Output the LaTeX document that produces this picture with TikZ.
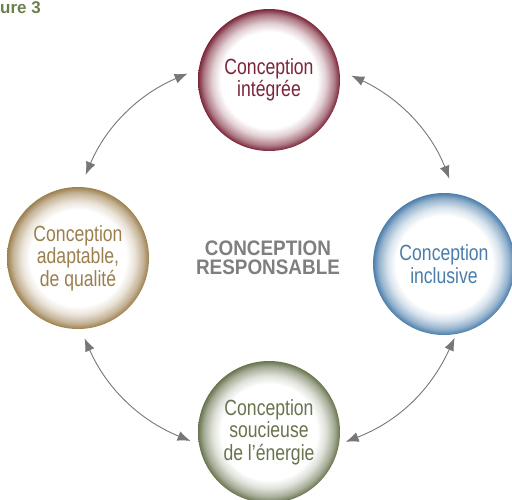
\documentclass[tikz,border=0pt]{standalone}
\usepackage{fontspec}
\setmainfont{Liberation Sans}
\newfontfamily\narrowfont[FakeStretch=0.8]{Liberation Sans}
\newfontfamily\midfont[FakeStretch=0.9]{Liberation Sans}
\usetikzlibrary{arrows.meta,shapes,positioning}

\definecolor{wine}{HTML}{7A2538}
\definecolor{steel}{HTML}{4A7DAA}
\definecolor{sand}{HTML}{9C7F4E}
\definecolor{olive}{HTML}{68744F}
\definecolor{midgray}{HTML}{7F7F80}
\definecolor{arrowgray}{HTML}{77777A}
\definecolor{figgreen}{HTML}{6C804E}

% white disc that fades into a coloured rim
\newcommand\ringshade[2]{%
  \pgfdeclareradialshading{#1}{\pgfpointorigin}{%
    color(0bp)=(white); color(17bp)=(white);
    color(20bp)=(#2!22!white); color(23bp)=(#2!60!white);
    color(25bp)=(#2); color(50bp)=(#2)}}
\ringshade{winering}{wine}
\ringshade{steelring}{steel}
\ringshade{sandring}{sand}
\ringshade{olivering}{olive}

\tikzset{
  ring/.style={circle, minimum size=142pt, inner sep=0pt, align=center,
    font=\narrowfont\fontsize{22}{22.5}\selectfont},
  flow/.style={{Latex[length=13pt,width=10pt]}-{Latex[length=13pt,width=10pt]},
    draw=arrowgray, line width=0.9pt}
}

\begin{document}
\begin{tikzpicture}[x=1pt, y=-1pt]
    \useasboundingbox (0,0) rectangle (512,499);

    \node[anchor=north west, inner sep=0pt, text=figgreen,
      font=\bfseries\fontsize{17}{17}\selectfont] (fig) at (0,1) {ure 3};

    \node[ring, shading=winering, text=wine] (integree) at (269,80) {Conception\\intégrée};
    \node[ring, shading=steelring, text=steel] (inclusive) at (444,264) {Conception\\inclusive};
    \node[ring, shading=sandring, text=sand] (adaptable) at (78,258) {Conception\\adaptable,\\de qualité};
    \node[ring, shading=olivering, text=olive] (energie) at (269,432) {Conception\\soucieuse\\de l’énergie};

    \node[align=center, text=midgray,
      font=\midfont\bfseries\fontsize{21}{19}\selectfont] (resp) at (268,258) {CONCEPTION\\RESPONSABLE};

    \draw[flow, shorten <=12pt, shorten >=13pt] (integree.171) to[bend right=22] (adaptable.88);
    \draw[flow, shorten <=13pt, shorten >=16pt] (integree.8) to[bend left=22] (inclusive.81);
    \draw[flow, shorten <=10pt, shorten >=9pt] (adaptable.272) to[bend right=22] (energie.190);
    \draw[flow, shorten <=4pt, shorten >=7pt] (inclusive.280) to[bend left=22] (energie.350);
\end{tikzpicture}
\end{document}
